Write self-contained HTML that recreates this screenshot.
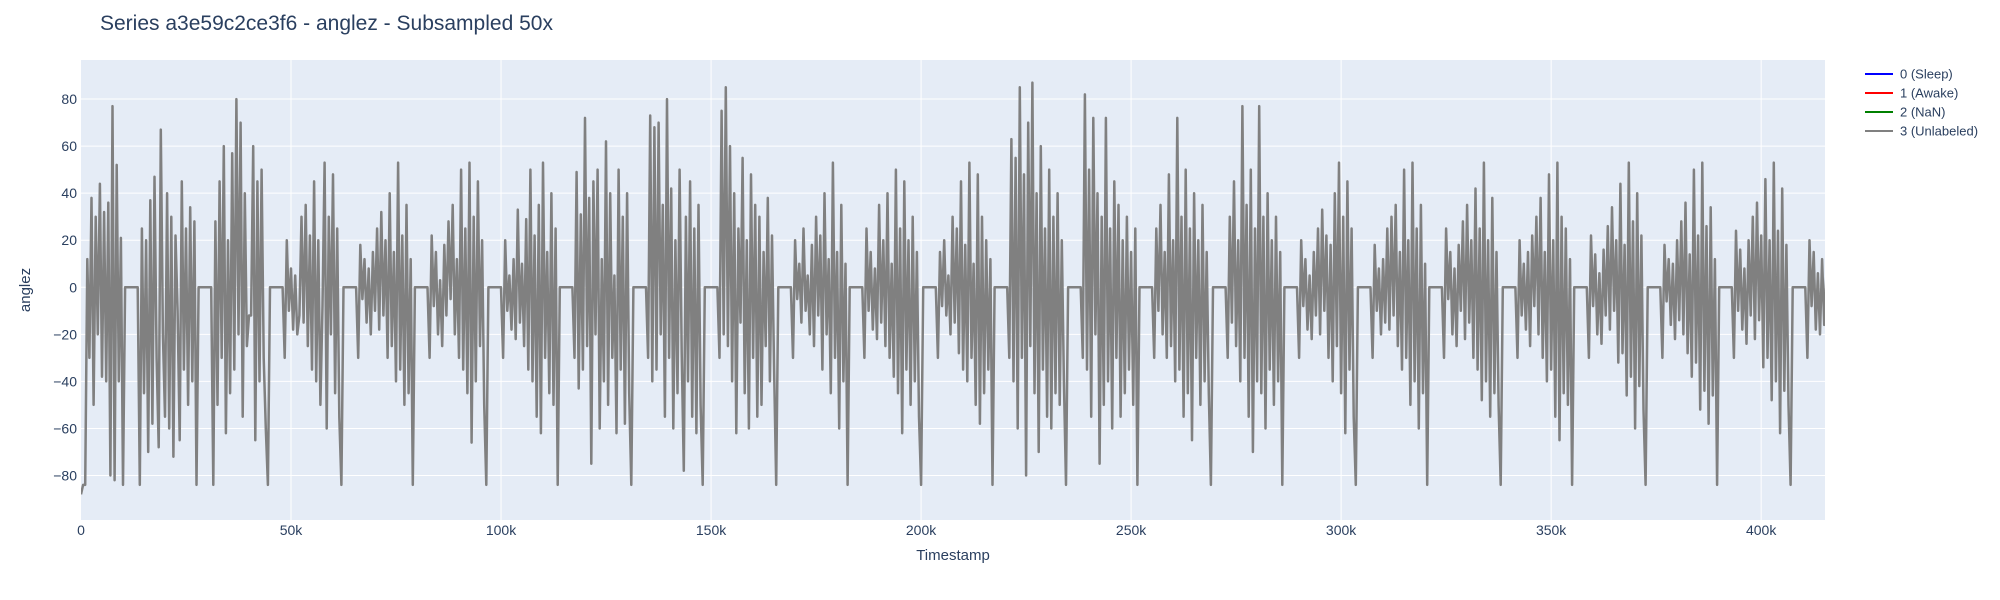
<!DOCTYPE html>
<html><head><meta charset="utf-8"><style>
body{margin:0;background:#fff;}
svg{display:block;font-family:"Liberation Sans",Arial,sans-serif;}
</style></head><body>
<svg id="chart" width="2000" height="600">
<text x="100" y="30" font-size="21" fill="#2a3f5f">Series a3e59c2ce3f6 - anglez - Subsampled 50x</text>
<rect x="81" y="60" width="1744" height="460" fill="#e5ecf6"/>
<g id="grid"></g>
<g id="yticks"></g>
<g id="xticks"></g>
<defs><clipPath id="clip"><rect x="81" y="60" width="1744" height="460"/></clipPath></defs>
<g clip-path="url(#clip)"><polyline id="series" fill="none" stroke="#808080" stroke-width="2.5" stroke-linejoin="round"/></g>
<text x="953" y="560" font-size="15" fill="#2a3f5f" text-anchor="middle">Timestamp</text>
<text x="0" y="0" font-size="15" fill="#2a3f5f" text-anchor="middle" transform="translate(30,290) rotate(-90)">anglez</text>
<g>
<g><line x1="1865" y1="74" x2="1893" y2="74" stroke="#0000ff" stroke-width="2"/><text x="1900" y="78.5" font-size="13" fill="#2a3f5f">0 (Sleep)</text></g>
<g><line x1="1865" y1="93" x2="1893" y2="93" stroke="#ff0000" stroke-width="2"/><text x="1900" y="97.5" font-size="13" fill="#2a3f5f">1 (Awake)</text></g>
<g><line x1="1865" y1="112" x2="1893" y2="112" stroke="#008000" stroke-width="2"/><text x="1900" y="116.5" font-size="13" fill="#2a3f5f">2 (NaN)</text></g>
<g><line x1="1865" y1="131" x2="1893" y2="131" stroke="#808080" stroke-width="2"/><text x="1900" y="135.5" font-size="13" fill="#2a3f5f">3 (Unlabeled)</text></g>
</g>
</svg>
<script>
const timeStep = 500;
const xTickValues = [0, 50000, 100000, 150000, 200000, 250000, 300000, 350000, 400000];
const xTickLabels = ["0", "50k", "100k", "150k", "200k", "250k", "300k", "350k", "400k"];
const yTickValues = [-80, -60, -40, -20, 0, 20, 40, 60, 80];
const anglez = [
-88,-84,-84,12,-30,38,-50,30,-20,44,-38,32,-40,36,-80,77,-82,52,-40,21,
-84,0,0,0,0,0,0,0,-84,25,-45,20,-70,37,-58,47,-30,-68,67,-20,-55,40,-60,30,-72,22,-10,-65,45,-35,25,-50,34,-40,28,
-84,0,0,0,0,0,0,0,-84,28,-50,45,-30,60,-62,20,-45,57,-35,80,-20,70,-55,40,-25,-12,-12,60,-65,45,-40,50,-30,-60,
-84,0,0,0,0,0,0,0,-30,20,-10,8,-18,5,-20,-12,30,-15,35,-25,22,-35,45,-40,20,-50,-8,53,-60,30,-20,48,-45,25,-55,
-84,0,0,0,0,0,0,0,-30,18,-5,12,-15,8,-20,15,-10,25,-18,32,-12,20,-30,40,-25,15,-40,53,-35,22,-50,35,-45,12,
-84,0,0,0,0,0,0,0,-30,22,-8,15,-20,3,-25,18,-12,28,-5,35,-20,12,-30,50,-35,25,-45,53,-66,30,-40,45,-25,20,-50,
-84,0,0,0,0,0,0,0,-30,20,-10,5,-18,12,-22,33,-15,10,-25,29,-35,50,-40,22,-55,35,-62,53,-30,15,-45,40,-50,25,
-84,0,0,0,0,0,0,0,-30,49,-43,31,-35,72,-25,38,-75,45,-20,50,-60,12,-40,62,-50,40,-30,5,-62,50,-35,30,-58,40,-45,
-84,0,0,0,0,0,0,0,-30,73,-40,68,-35,70,-20,35,-55,80,-30,42,-60,20,-45,50,-28,-78,30,-40,45,-55,25,-62,35,-50,
-84,0,0,0,0,0,0,0,-30,75,-20,85,-25,60,-40,40,-62,25,-15,55,-45,20,-60,48,-30,35,-55,30,-50,15,-25,38,-40,22,-35,
-84,0,0,0,0,0,0,0,-30,20,-5,10,-15,25,-10,5,-20,18,-25,30,-12,22,-35,40,-20,12,-45,53,-30,15,-60,35,-40,10,
-84,0,0,0,0,0,0,0,-30,25,-10,15,-18,8,-22,35,-15,20,-25,40,-30,10,-38,50,-45,25,-62,45,-35,20,-50,30,-40,15,-55,
-84,0,0,0,0,0,0,0,-30,15,-8,20,-12,5,-20,30,-15,25,-28,45,-35,18,-40,53,-30,10,-50,48,-58,30,-45,20,-35,12,
-84,0,0,0,0,0,0,0,-30,63,-40,55,-60,85,-30,48,-80,70,-25,87,-45,40,-70,60,-35,25,-55,50,-60,30,-45,40,-50,20,-40,
-84,0,0,0,0,0,0,0,-30,82,-35,50,-55,72,-20,40,-75,30,-50,72,-40,25,-60,45,-30,35,-55,20,-45,30,-35,15,-50,25,
-84,0,0,0,0,0,0,0,-30,25,-10,35,-20,15,-30,48,-25,20,-40,72,-35,30,-55,50,-45,25,-65,40,-30,20,-50,35,-40,15,-45,
-84,0,0,0,0,0,0,0,-30,30,-15,45,-25,20,-40,77,-30,35,-55,50,-70,25,-40,77,-45,30,-60,40,-35,20,-50,30,-40,15,
-84,0,0,0,0,0,0,0,-30,20,-8,12,-18,5,-22,15,-12,25,-20,33,-10,22,-30,18,-40,40,-25,53,-45,30,-62,45,-35,25,-55,
-84,0,0,0,0,0,0,0,-30,18,-10,8,-20,12,-15,25,-18,30,-12,35,-25,15,-35,50,-30,20,-50,53,-40,25,-60,35,-45,10,
-84,0,0,0,0,0,0,0,-30,25,-5,15,-20,8,-25,18,-10,28,-22,35,-15,20,-30,42,-35,25,-48,53,-40,20,-55,38,-45,15,-50,
-84,0,0,0,0,0,0,0,-30,20,-12,10,-18,15,-25,22,-8,30,-20,38,-30,15,-40,48,-35,20,-55,53,-65,30,-45,25,-50,12,
-84,0,0,0,0,0,0,0,-30,22,-8,14,-20,6,-24,16,-12,26,-18,34,-10,20,-32,44,-28,18,-46,53,-38,28,-60,40,-42,22,-52,
-84,0,0,0,0,0,0,0,-30,18,-6,12,-16,10,-22,20,-14,28,-20,36,-28,14,-38,50,-32,22,-52,53,-44,26,-58,34,-46,12,
-84,0,0,0,0,0,0,0,-30,24,-10,16,-18,8,-24,20,-12,30,-22,36,-14,22,-34,46,-30,20,-48,53,-40,24,-62,42,-44,18,-50,
-84,0,0,0,0,0,0,0,-30,20,-8,15,-18,6,-20,12,-16,5,-12
];
const X0=81, X1=1825, XMIN=0, XMAX=415200;
const Y0=60, Y1=520, YMIN=-98.9, YMAX=96.6;
function xScale(v){return X0+(v-XMIN)/(XMAX-XMIN)*(X1-X0);}
function yScale(v){return Y1-(v-YMIN)/(YMAX-YMIN)*(Y1-Y0);}
const NS="http://www.w3.org/2000/svg";
const grid=document.getElementById('grid'), yt=document.getElementById('yticks'), xt=document.getElementById('xticks');
yTickValues.forEach(v=>{
  const y=yScale(v);
  const l=document.createElementNS(NS,'line');
  l.setAttribute('x1',X0);l.setAttribute('x2',X1);l.setAttribute('y1',y);l.setAttribute('y2',y);
  l.setAttribute('stroke','#fff');l.setAttribute('stroke-width',1);
  
  
  grid.appendChild(l);
  const t=document.createElementNS(NS,'text');
  t.setAttribute('x',77);t.setAttribute('y',y+5);t.setAttribute('text-anchor','end');
  t.setAttribute('font-size',14);t.setAttribute('fill','#2a3f5f');
  t.textContent=v<0?'\u2212'+Math.abs(v):String(v);
  
  
  yt.appendChild(t);
});
xTickValues.forEach((v,i)=>{
  const x=xScale(v);
  if(i>0){
  const l=document.createElementNS(NS,'line');
  l.setAttribute('x1',x);l.setAttribute('x2',x);l.setAttribute('y1',Y0);l.setAttribute('y2',Y1);
  l.setAttribute('stroke','#fff');l.setAttribute('stroke-width',1);
  
  
  grid.appendChild(l);}
  const t=document.createElementNS(NS,'text');
  t.setAttribute('x',x);t.setAttribute('y',535);t.setAttribute('text-anchor','middle');
  t.setAttribute('font-size',14);t.setAttribute('fill','#2a3f5f');
  t.textContent=xTickLabels[i];
  
  
  xt.appendChild(t);
});
const pts=anglez.map((v,i)=>xScale(i*timeStep).toFixed(1)+','+yScale(v).toFixed(1)).join(' ');
document.getElementById('series').setAttribute('points',pts);
</script>
</body></html>
